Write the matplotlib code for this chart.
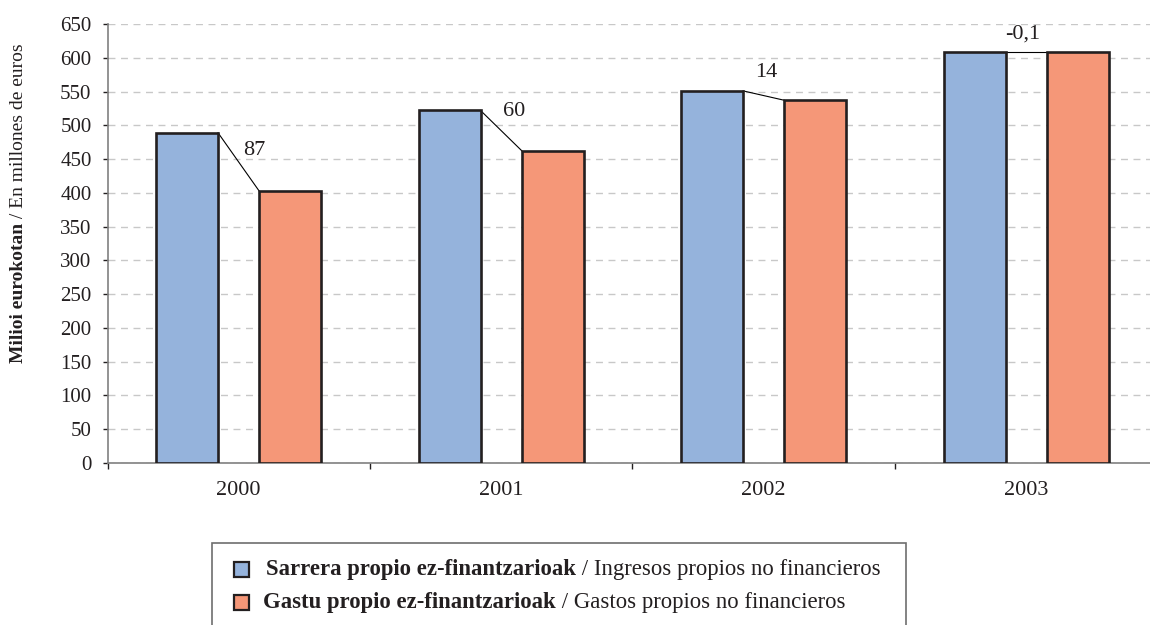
import numpy as np
import matplotlib
matplotlib.use("Agg")
import matplotlib.pyplot as plt
from matplotlib.patches import Rectangle

# data (millions of euros)
years = ["2000", "2001", "2002", "2003"]
ingresos = [489, 522, 551, 608]
gastos = [402, 462, 537, 608]
diff_labels = ["87", "60", "14", "-0,1"]

legend_bold = ["Sarrera propio ez-finantzarioak", "Gastu propio ez-finantzarioak"]
legend_normal = [" / Ingresos propios no financieros", " / Gastos propios no financieros"]
ylabel_bold = "Milioi eurokotan"
ylabel_normal = " / En millones de euros"

BLUE = "#95b3dc"
ORANGE = "#f59778"
EDGE = "#231f20"
FONT = "Liberation Serif"

plt.rcParams["font.family"] = FONT

W, H = 1150, 625
fig = plt.figure(figsize=(W / 100, H / 100), dpi=100)
ax = fig.add_axes([107.5 / W, 1 - 463 / H, 1050 / W, 439 / H])

x = np.arange(len(years)) + 0.5
off = 0.197
bw = 0.236
ax.bar(x - off, ingresos, bw, color=BLUE, edgecolor=EDGE, linewidth=1.9, zorder=3)
ax.bar(x + off, gastos, bw, color=ORANGE, edgecolor=EDGE, linewidth=1.9, zorder=3)

# connector lines between bar tops + difference labels
label_offsets = [(11, 8.5), (9, 13.5), (2, 16.5), (-2.5, 13)]  # points
for i in range(len(years)):
    x0 = x[i] - off + bw / 2
    x1 = x[i] + off - bw / 2
    ax.plot([x0, x1], [ingresos[i], gastos[i]], color="black", lw=0.8, zorder=2)
    mx, my = (x0 + x1) / 2, (ingresos[i] + gastos[i]) / 2
    ax.annotate(diff_labels[i], (mx, my), xytext=label_offsets[i],
                textcoords="offset points", ha="center", va="center",
                fontsize=16, color="#231f20")

ax.set_xlim(0, 4)
ax.set_ylim(0, 650)
ax.set_yticks(np.arange(0, 651, 50))
ax.tick_params(axis="y", labelsize=15, length=3.5, width=1, pad=8, colors="#231f20")
ax.set_xticks([0, 1, 2, 3, 4])
ax.set_xticklabels([])
ax.tick_params(axis="x", which="major", length=4, width=1, color="#231f20")
ax.set_xticks(x, minor=True)
ax.set_xticklabels(years, minor=True, fontsize=16, color="#231f20")
ax.tick_params(axis="x", which="minor", length=0, pad=13)

ax.grid(axis="y", color="#c8c8c8", linestyle=(0, (5, 4)), linewidth=1, zorder=0)
ax.set_axisbelow(True)
for s in ["top", "right"]:
    ax.spines[s].set_visible(False)
for s in ["left", "bottom"]:
    ax.spines[s].set_color("#808080")
    ax.spines[s].set_linewidth(1.2)

renderer = fig.canvas.get_renderer()

# y label, bold part + normal part, rotated
yl1 = fig.text(19 / W, 1 - 363 / H, ylabel_bold, rotation=90, ha="center",
               va="bottom", fontsize=14, fontweight="bold", color="#231f20")
bb = yl1.get_window_extent(renderer)
fig.text(19 / W, (bb.y1) / H, ylabel_normal, rotation=90, ha="center",
         va="bottom", fontsize=14, color="#231f20")

# legend box drawn by hand (mixed bold / normal text)
fig.patches.append(Rectangle((212 / W, -0.05), 694 / W, 0.05 + 1 - 543 / H,
                             transform=fig.transFigure, facecolor="white",
                             edgecolor="#6e6e6e", linewidth=1.2))
colors = [BLUE, ORANGE]
marker_y = [569.5, 602.5]
text_x = [266, 263]
for i in range(2):
    yc = 1 - marker_y[i] / H
    fig.patches.append(Rectangle((234 / W, yc - 7.5 / H), 15 / W, 15 / H,
                                 transform=fig.transFigure, facecolor=colors[i],
                                 edgecolor=EDGE, linewidth=1.6))
    t1 = fig.text(text_x[i] / W, yc, legend_bold[i], ha="left", va="center",
                  fontsize=16.4, fontweight="bold", color="#231f20")
    bb = t1.get_window_extent(renderer)
    fig.text(bb.x1 / W, yc, legend_normal[i], ha="left", va="center",
             fontsize=16.4, color="#231f20")

fig.savefig("out.png", dpi=100)
